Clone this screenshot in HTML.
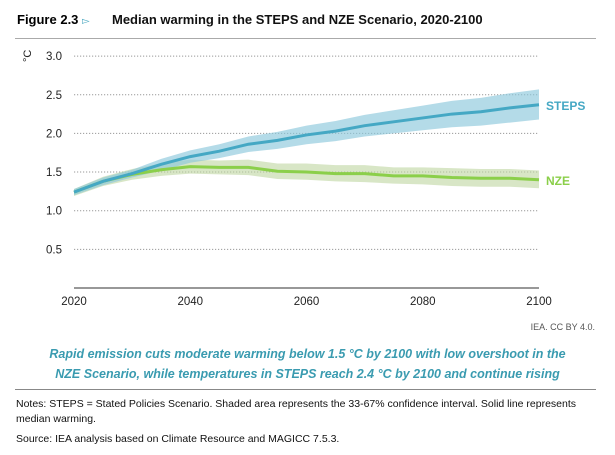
<!DOCTYPE html>
<html><head><meta charset="utf-8"><style>
body{margin:0;width:615px;height:455px;background:#fff;font-family:"Liberation Sans",sans-serif;position:relative;overflow:hidden}
.a{position:absolute;white-space:nowrap}
</style></head><body>
<div class="a" style="left:17px;top:12px;font-size:13px;font-weight:bold;color:#000">Figure 2.3 <span style="color:#4aa8c0;font-weight:normal;font-size:10px">&#9659;</span></div>
<div class="a" style="left:112px;top:12px;font-size:13px;font-weight:bold;color:#111">Median warming in the STEPS and NZE Scenario, 2020-2100</div>
<div class="a" style="left:15px;top:38px;width:581px;height:1px;background:#aaa"></div>
<svg class="a" style="left:0;top:0" width="615" height="320">
<g id="g"></g>
</svg>
<div class="a" style="right:20px;top:322px;font-size:9px;color:#555">IEA. CC BY 4.0.</div>
<div class="a" style="left:0;width:615px;top:344px;text-align:center;font-size:12.5px;font-weight:bold;font-style:italic;color:#3a9bb0;line-height:20px;white-space:normal">Rapid emission cuts moderate warming below 1.5 °C by 2100 with low overshoot in the<br>NZE Scenario, while temperatures in STEPS reach 2.4 °C by 2100 and continue rising</div>
<div class="a" style="left:15px;top:389px;width:581px;height:1px;background:#888"></div>
<div class="a" style="left:16px;top:397px;width:580px;font-size:10.5px;color:#111;line-height:15px;white-space:normal">Notes: STEPS = Stated Policies Scenario. Shaded area represents the 33-67% confidence interval. Solid line represents median warming.</div>
<div class="a" style="left:16px;top:433px;font-size:10.5px;color:#111">Source: IEA analysis based on Climate Resource and MAGICC 7.5.3.</div>
<script>
const years=[2020,2025,2030,2035,2040,2045,2050,2055,2060,2065,2070,2075,2080,2085,2090,2095,2100];
const stepsMed=[1.24,1.38,1.48,1.60,1.70,1.77,1.86,1.91,1.98,2.03,2.10,2.15,2.20,2.25,2.28,2.33,2.37];
const stepsLo=[1.20,1.33,1.43,1.52,1.62,1.68,1.76,1.80,1.86,1.90,1.96,2.00,2.04,2.08,2.10,2.14,2.18];
const stepsHi=[1.28,1.43,1.53,1.67,1.78,1.86,1.96,2.02,2.10,2.16,2.24,2.30,2.36,2.42,2.46,2.52,2.57];
const nzeMed=[1.24,1.38,1.47,1.53,1.57,1.56,1.56,1.51,1.50,1.48,1.48,1.45,1.45,1.43,1.42,1.42,1.40];
const nzeLo=[1.19,1.32,1.40,1.45,1.48,1.47,1.46,1.41,1.40,1.38,1.37,1.35,1.34,1.32,1.31,1.31,1.29];
const nzeHi=[1.28,1.44,1.54,1.61,1.66,1.65,1.66,1.61,1.61,1.59,1.59,1.56,1.56,1.55,1.54,1.54,1.52];
const yTicks=[0.5,1.0,1.5,2.0,2.5,3.0];
const xTicks=[2020,2040,2060,2080,2100];
const X=v=>74+(v-2020)*(539-74)/80;
const Y=v=>288-v*77.3;
const ns="http://www.w3.org/2000/svg";
const g=document.getElementById('g');
function mk(t,a){const e=document.createElementNS(ns,t);for(const k in a)e.setAttribute(k,a[k]);g.appendChild(e);return e;}
yTicks.forEach(t=>{
 const l=mk('line',{x1:74,x2:539,y1:Y(t),y2:Y(t),stroke:'#999','stroke-dasharray':'1.2,1.8','stroke-width':1});
 
 
 const tx=mk('text',{x:62,y:Y(t)+4,'text-anchor':'end','font-size':11.5,fill:'#222','font-family':'Liberation Sans'});
 tx.textContent=t.toFixed(1);
 
 
});
const ax=mk('line',{x1:74,x2:539,y1:288,y2:288,stroke:'#777','stroke-width':1.5});


xTicks.forEach(t=>{
 const tx=mk('text',{x:X(t),y:305,'text-anchor':'middle','font-size':11.5,fill:'#222','font-family':'Liberation Sans'});
 tx.textContent=t;
 
 
});
const yt=mk('text',{x:0,y:0,'font-size':11,fill:'#222',transform:'translate(31,62) rotate(-90)','font-family':'Liberation Sans'});
yt.textContent='°C';


function band(lo,hi,fill,name){
 let d=years.map((y,i)=>(i?'L':'M')+X(y)+','+Y(hi[i])).join('');
 for(let i=years.length-1;i>=0;i--)d+='L'+X(years[i])+','+Y(lo[i]);
 const p=mk('path',{d:d+'Z',fill:fill});
 
 
}
function line(v,c,name){
 const p=mk('path',{d:years.map((y,i)=>(i?'L':'M')+X(y)+','+Y(v[i])).join(''),fill:'none',stroke:c,'stroke-width':3});
 
 
}
band(nzeLo,nzeHi,'rgba(190,214,160,0.6)','nze-band');
band(stepsLo,stepsHi,'rgba(140,200,220,0.65)','steps-band');
line(nzeMed,'#8bcf4a','nze-line');
line(stepsMed,'#45a8c4','steps-line');
const l1=mk('text',{x:546,y:Y(stepsMed[16])+5,'font-size':12,'font-weight':'bold',fill:'#45a8c4','font-family':'Liberation Sans'});
l1.textContent='STEPS';


const l2=mk('text',{x:546,y:Y(nzeMed[16])+5,'font-size':12,'font-weight':'bold',fill:'#8bcf4a','font-family':'Liberation Sans'});
l2.textContent='NZE';


</script>
</body></html>
